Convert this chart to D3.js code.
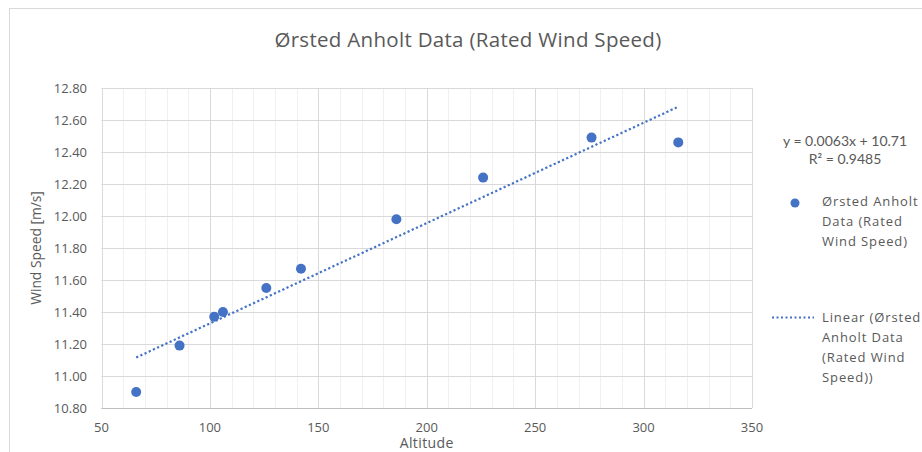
<!DOCTYPE html>
<html>
<head>
<meta charset="utf-8">
<script src="https://cdn.jsdelivr.net/npm/d3@7"></script>
<style>
  body { margin: 0; background: #fff; }
  text { font-family: "Open Sans", sans-serif; fill: #595959; }
</style>
</head>
<body>
<svg></svg>
<script>
const title = "Ørsted Anholt Data (Rated Wind Speed)";
const xLabel = "Altitude";
const yLabel = "Wind Speed [m/s]";
const seriesName = ["Ørsted Anholt", "Data (Rated", "Wind Speed)"];
const trendName = ["Linear (Ørsted", "Anholt Data", "(Rated Wind", "Speed))"];
const equationText = ["y = 0.0063x + 10.71", "R² = 0.9485"];

const altitude = [66, 86, 102, 106, 126, 142, 186, 226, 276, 316];
const windSpeed = [10.90, 11.19, 11.37, 11.40, 11.55, 11.67, 11.98, 12.24, 12.49, 12.46];

const xTicks = [50, 100, 150, 200, 250, 300, 350];
const yTicks = [10.8, 11.0, 11.2, 11.4, 11.6, 11.8, 12.0, 12.2, 12.4, 12.6, 12.8];

const width = 922;
const height = 452;
const blue = "#4472C4";

const x = d3.scaleLinear().domain([50, 350]).range([101.5, 752]);
const y = d3.scaleLinear().domain([10.8, 12.8]).range([408, 88]);

const svg = d3.select("svg")
    .attr("width", width)
    .attr("height", height);

// chart frame
svg.append("rect")
    .attr("x", 9.5).attr("y", 8.5)
    .attr("width", width + 10).attr("height", height + 10)
    .attr("fill", "none")
    .attr("stroke", "#d9d9d9");

svg.append("text")
    .attr("x", 468).attr("y", 47)
    .attr("text-anchor", "middle")
    .style("font-size", "20.5px")
    .style("letter-spacing", "0.3px")
    .text(title);

// minor vertical gridlines every 10
const grid = svg.append("g");
grid.selectAll("line.minor")
    .data(d3.range(50, 351, 10).filter(function (d) { return d % 50 !== 0; }))
    .enter().append("line")
    .attr("x1", function (d) { return Math.round(x(d)) + 0.5; })
    .attr("x2", function (d) { return Math.round(x(d)) + 0.5; })
    .attr("y1", y(12.8)).attr("y2", y(10.8))
    .attr("stroke", "#f0f0f0");

grid.selectAll("line.majx")
    .data(xTicks)
    .enter().append("line")
    .attr("x1", function (d) { return Math.round(x(d)) + 0.5; })
    .attr("x2", function (d) { return Math.round(x(d)) + 0.5; })
    .attr("y1", y(12.8)).attr("y2", y(10.8))
    .attr("stroke", "#d9d9d9");

grid.selectAll("line.majy")
    .data(yTicks)
    .enter().append("line")
    .attr("x1", x(50)).attr("x2", x(350))
    .attr("y1", function (d) { return Math.round(y(d)) + 0.5; })
    .attr("y2", function (d) { return Math.round(y(d)) + 0.5; })
    .attr("stroke", "#d9d9d9");

// bottom axis line a bit darker
svg.append("line")
    .attr("x1", x(50)).attr("x2", x(350))
    .attr("y1", Math.round(y(10.8)) + 0.5).attr("y2", Math.round(y(10.8)) + 0.5)
    .attr("stroke", "#bfbfbf");

// tick labels
svg.append("g").selectAll("text")
    .data(yTicks)
    .enter().append("text")
    .attr("x", 87)
    .attr("y", function (d) { return y(d); })
    .attr("dy", "0.35em")
    .attr("text-anchor", "end")
    .style("font-size", "13px")
    .text(d3.format(".2f"));

svg.append("g").selectAll("text")
    .data(xTicks)
    .enter().append("text")
    .attr("x", function (d) { return x(d); })
    .attr("y", 427)
    .attr("dy", "0.35em")
    .attr("text-anchor", "middle")
    .style("font-size", "13px")
    .text(function (d) { return d; });

svg.append("text")
    .attr("x", x(200)).attr("y", 443)
    .attr("dy", "0.35em")
    .attr("text-anchor", "middle")
    .style("font-size", "14px")
    .style("letter-spacing", "0.4px")
    .text(xLabel);

svg.append("text")
    .attr("transform", "translate(36," + y(11.8) + ") rotate(-90)")
    .attr("dy", "0.35em")
    .attr("text-anchor", "middle")
    .style("font-size", "13.8px")
    .text(yLabel);

// linear trendline (least squares on the data)
const mx = d3.mean(altitude), my = d3.mean(windSpeed);
let sxy = 0, sxx = 0;
altitude.forEach(function (a, i) {
    sxy += (a - mx) * (windSpeed[i] - my);
    sxx += (a - mx) * (a - mx);
});
const slope = sxy / sxx;
const intercept = my - slope * mx;
const xExt = d3.extent(altitude);

svg.append("path")
    .datum(xExt)
    .attr("d", d3.line()
        .x(function (d) { return x(d); })
        .y(function (d) { return y(intercept + slope * d); }))
    .attr("fill", "none")
    .attr("stroke", blue)
    .attr("stroke-width", 2.2)
    .attr("stroke-dasharray", "2.2,2.4");

svg.append("g").selectAll("circle")
    .data(altitude)
    .enter().append("circle")
    .attr("cx", function (d) { return x(d); })
    .attr("cy", function (d, i) { return y(windSpeed[i]); })
    .attr("r", 5)
    .attr("fill", blue);

// legend
svg.append("g").selectAll("text")
    .data(equationText)
    .enter().append("text")
    .attr("x", 845)
    .attr("y", function (d, i) { return 141 + i * 18; })
    .attr("dy", "0.35em")
    .attr("text-anchor", "middle")
    .style("font-family", "Lato, sans-serif")
    .style("font-size", "14px")
    .text(function (d) { return d; });

svg.append("circle")
    .attr("cx", 795).attr("cy", 203)
    .attr("r", 4.5)
    .attr("fill", blue);

svg.append("g").selectAll("text")
    .data(seriesName)
    .enter().append("text")
    .attr("x", 822)
    .attr("y", function (d, i) { return 201 + i * 20; })
    .attr("dy", "0.35em")
    .style("font-size", "13px")
    .style("letter-spacing", "0.9px")
    .text(function (d) { return d; });

svg.append("line")
    .attr("x1", 772).attr("x2", 814)
    .attr("y1", 317.5).attr("y2", 317.5)
    .attr("stroke", blue)
    .attr("stroke-width", 2)
    .attr("stroke-dasharray", "2,2.5");

svg.append("g").selectAll("text")
    .data(trendName)
    .enter().append("text")
    .attr("x", 822)
    .attr("y", function (d, i) { return 317 + i * 20; })
    .attr("dy", "0.35em")
    .style("font-size", "13px")
    .style("letter-spacing", "0.9px")
    .text(function (d) { return d; });
</script>
</body>
</html>
